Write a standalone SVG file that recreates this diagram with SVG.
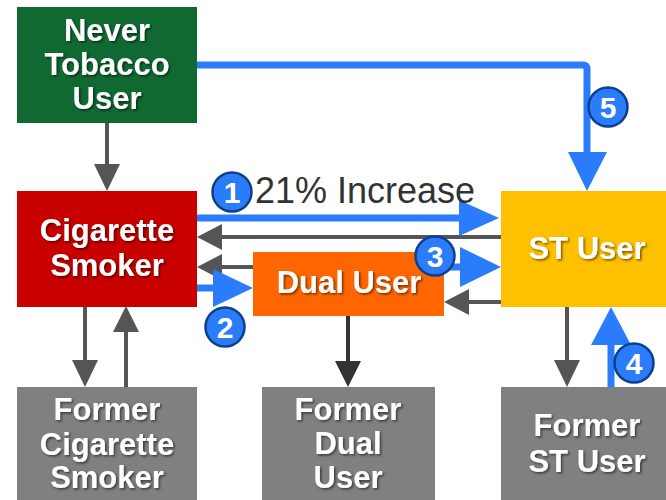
<svg xmlns="http://www.w3.org/2000/svg" width="666" height="500" viewBox="0 0 666 500">
<defs>
<filter id="sh" x="-10%" y="-20%" width="130%" height="150%">
<feDropShadow dx="1.5" dy="1.5" stdDeviation="1" flood-color="#000" flood-opacity="0.55"/>
</filter>
<style>
.box-t{font-family:"Liberation Sans",Arial,sans-serif;font-weight:bold;font-size:31px;fill:#fff;text-anchor:middle;filter:url(#sh)}
.bl{stroke:#2b7cfa;stroke-width:7;fill:none}
.blh{fill:#2b7cfa}
.gl{stroke:#555;stroke-width:4;fill:none}
.glh{fill:#555}
.num-c{fill:#2b7cfa;stroke:#0c3f8f;stroke-width:2.5}
.num-t{font-family:"Liberation Sans",Arial,sans-serif;font-weight:bold;font-size:30px;fill:#fff;text-anchor:middle}
</style>
</defs>
<rect width="666" height="500" fill="#fff"/>

<g id="connectors">
<path class="gl" d="M107,123 V165"/><polygon class="glh" points="94,164 107,191 120,164"/>
<path class="gl" d="M501,237 H221"/><polygon class="glh" points="222,224 197,237 222,250"/>
<path class="gl" d="M253,267 H221"/><polygon class="glh" points="222,254 197,267 222,280"/>
<path class="gl" d="M501,302 H468"/><polygon class="glh" points="469,289 444,302 469,315"/>
<path class="gl" d="M85,307 V361"/><polygon class="glh" points="72,360 85,387 98,360"/>
<path class="gl" d="M126,387 V331"/><polygon class="glh" points="113,332 126,306 139,332"/>
<path d="M348,316 V362" stroke="#333" stroke-width="4" fill="none"/><polygon fill="#333" points="335,361 348,387 361,361"/>
<path class="gl" d="M567,307 V361"/><polygon class="glh" points="554,360 567,387 580,360"/>

<path class="bl" d="M197,65 H583 Q587,65 587,69 V153"/><polygon class="blh" points="568,152 607,152 587,191"/>
<path class="bl" d="M197,218 H461"/><polygon class="blh" points="459,200 499,218 459,236"/>
<path class="bl" d="M197,288 H215"/><polygon class="blh" points="213,269 253,288 213,307"/>
<path class="bl" d="M444,267 H462"/><polygon class="blh" points="460,247 501,267 460,287"/>
<path class="bl" d="M611,387 V343"/><polygon class="blh" points="591,345 611,307 631,345"/>
</g>

<g id="never">
<rect x="17" y="7" width="180" height="116" fill="#116932"/>
<text class="box-t" x="107" y="41">Never</text>
<text class="box-t" x="107" y="75">Tobacco</text>
<text class="box-t" x="107" y="109">User</text>
</g>
<g id="cigarette">
<rect x="17" y="191" width="180" height="116" fill="#c80000"/>
<text class="box-t" x="107" y="241">Cigarette</text>
<text class="box-t" x="107" y="276">Smoker</text>
</g>
<g id="st">
<rect x="501" y="191" width="165" height="116" fill="#ffc000"/>
<text class="box-t" x="587" y="259">ST User</text>
</g>
<g id="dual">
<rect x="253" y="252" width="191" height="64" fill="#ff6600"/>
<text class="box-t" x="349" y="293">Dual User</text>
</g>
<g id="former-cig">
<rect x="17" y="387" width="180" height="113" fill="#808080"/>
<text class="box-t" x="107" y="420">Former</text>
<text class="box-t" x="107" y="455">Cigarette</text>
<text class="box-t" x="107" y="488">Smoker</text>
</g>
<g id="former-dual">
<rect x="262" y="387" width="173" height="113" fill="#808080"/>
<text class="box-t" x="348" y="420">Former</text>
<text class="box-t" x="348" y="454">Dual</text>
<text class="box-t" x="348" y="488">User</text>
</g>
<g id="former-st">
<rect x="501" y="387" width="165" height="113" fill="#808080"/>
<text class="box-t" x="587" y="436">Former</text>
<text class="box-t" x="587" y="472">ST User</text>
</g>

<g id="label-1">
<text x="255" y="203" font-family="'Liberation Sans',Arial,sans-serif" font-size="36" fill="#333">21% Increase</text>
<circle class="num-c" cx="232" cy="192" r="19.5"/><text class="num-t" x="232" y="203">1</text>
</g>
<g id="label-2"><circle class="num-c" cx="225" cy="327" r="19.5"/><text class="num-t" x="225" y="338">2</text></g>
<g id="label-3"><circle class="num-c" cx="435" cy="256" r="19.5"/><text class="num-t" x="435" y="267">3</text></g>
<g id="label-4"><circle class="num-c" cx="634" cy="363" r="19.5"/><text class="num-t" x="634" y="374">4</text></g>
<g id="label-5"><circle class="num-c" cx="608" cy="107" r="19.5"/><text class="num-t" x="608" y="118">5</text></g>
</svg>
